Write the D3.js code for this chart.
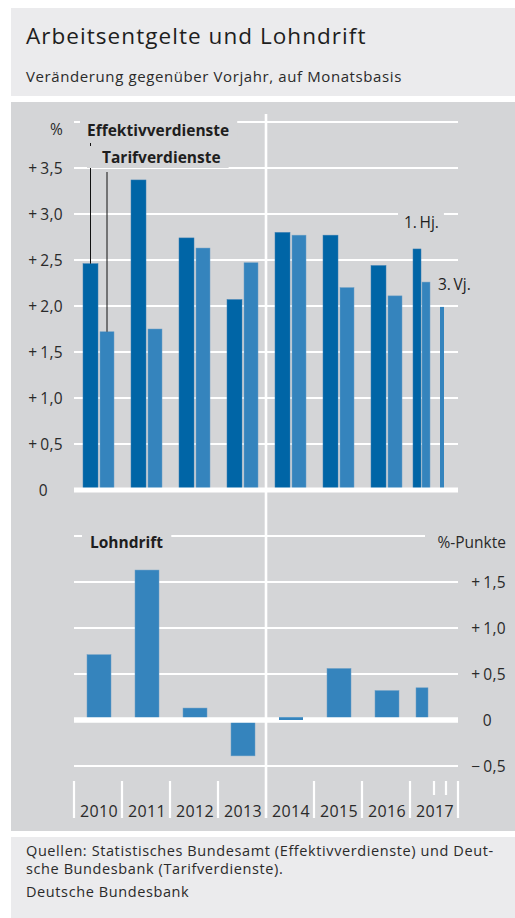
<!DOCTYPE html>
<html>
<head>
<meta charset="utf-8">
<script src="https://cdn.jsdelivr.net/npm/d3@7"></script>
<style>
  body { margin: 0; background: #fff; }
  text { font-family: "Open Sans", sans-serif; }
</style>
</head>
<body>
<svg id="chart" width="515" height="918"></svg>
<script>
  const width = 515, height = 918;
  const svg = d3.select("#chart");

  // data
  const years = [2010, 2011, 2012, 2013, 2014, 2015, 2016, 2017];
  const effektiv = [2.46, 3.37, 2.74, 2.07, 2.80, 2.77, 2.44, 2.62];
  const tarif = [1.72, 1.75, 2.63, 2.47, 2.77, 2.20, 2.11, 2.26];
  const tarif3Vj = 1.99;
  const lohndrift = [0.71, 1.63, 0.13, -0.39, 0.03, 0.56, 0.32, 0.35];
  const topTicks = [0, 0.5, 1.0, 1.5, 2.0, 2.5, 3.0, 3.5, 4.0];
  const bottomTicks = [-0.5, 0, 0.5, 1.0, 1.5, 2.0];

  const darkBlue = "#0065a6", lightBlue = "#3584bd";
  const panel = "#d4d5d7", boxBg = "#ebebed";

  // background boxes
  svg.append("rect").attr("x", 11).attr("y", 8).attr("width", width - 11).attr("height", 88).attr("fill", boxBg);
  svg.append("rect").attr("x", 11).attr("y", 102).attr("width", width - 11).attr("height", 729).attr("fill", panel);
  svg.append("rect").attr("x", 11).attr("y", 837).attr("width", width - 11).attr("height", 81).attr("fill", boxBg);

  svg.append("text").attr("x", 26).attr("y", 44)
    .attr("font-size", 22.5).attr("letter-spacing", 1.05).attr("fill", "#1e1e1e")
    .text("Arbeitsentgelte und Lohndrift");
  svg.append("text").attr("x", 26).attr("y", 82)
    .attr("font-size", 15).attr("letter-spacing", 0.6).attr("fill", "#2a2a2a")
    .text("Veränderung gegenüber Vorjahr, auf Monatsbasis");

  // scales
  const x = d3.scaleLinear().domain([2010, 2018]).range([74, 458]);
  const yTop = d3.scaleLinear().domain([0, 4]).range([490, 122]);
  const yBot = d3.scaleLinear().domain([-0.5, 2]).range([766, 536]);

  const fmt = v => v === 0 ? "0" : (v > 0 ? "+\u2009" : "\u2212\u2009") + d3.format(".1f")(Math.abs(v)).replace(".", ",");

  // ---------- top chart ----------
  const topG = svg.append("g");
  topG.selectAll("line.grid")
    .data(topTicks.filter(d => d !== 0))
    .join("line")
    .attr("x1", x(2010)).attr("x2", x(2018))
    .attr("y1", d => yTop(d)).attr("y2", d => yTop(d))
    .attr("stroke", "#fff").attr("stroke-width", 2.2);

  topG.selectAll("text.tick")
    .data(topTicks)
    .join("text")
    .attr("x", d => d === 0 ? 48 : 63)
    .attr("y", d => d === 4 ? 135 : yTop(d) + 6)
    .attr("text-anchor", "end")
    .attr("font-size", 15.5).attr("letter-spacing", 0.3).attr("fill", "#2a2a2a")
    .text(d => d === 4 ? "%" : fmt(d));

  topG.selectAll("rect.eff")
    .data(effektiv.map((v, i) => ({ year: years[i], v })))
    .join("rect")
    .attr("x", d => d.year === 2017 ? x(2017.25) - 9 : x(d.year + 0.5) - 15)
    .attr("width", d => d.year === 2017 ? 8 : 15)
    .attr("y", d => yTop(d.v))
    .attr("height", d => yTop(0) - yTop(d.v))
    .attr("fill", darkBlue).attr("stroke", "#3b7fb3").attr("stroke-width", 0.5);

  topG.selectAll("rect.tar")
    .data(tarif.map((v, i) => ({ year: years[i], v })))
    .join("rect")
    .attr("x", d => d.year === 2017 ? x(2017.25) : x(d.year + 0.5) + 2)
    .attr("width", d => d.year === 2017 ? 8 : 14)
    .attr("y", d => yTop(d.v))
    .attr("height", d => yTop(0) - yTop(d.v))
    .attr("fill", lightBlue).attr("stroke", "#6c9fc6").attr("stroke-width", 0.5);

  topG.append("rect")
    .attr("x", x(2017.625)).attr("width", 4)
    .attr("y", yTop(tarif3Vj)).attr("height", yTop(0) - yTop(tarif3Vj))
    .attr("fill", lightBlue);

  topG.append("line")
    .attr("x1", x(2010)).attr("x2", x(2018))
    .attr("y1", yTop(0)).attr("y2", yTop(0))
    .attr("stroke", "#fff").attr("stroke-width", 5);

  // labels with panel-coloured background that cut the gridlines
  function label(g, txt, lx, ly, opts) {
    const t = g.append("text").attr("x", lx).attr("y", ly)
      .attr("font-size", opts.size).attr("font-weight", opts.bold ? "bold" : "normal")
      .attr("fill", "#1e1e1e").text(txt);
    if (opts.anchor) t.attr("text-anchor", opts.anchor);
    if (opts.bg) {
      const b = t.node().getBBox();
      g.insert("rect", () => t.node())
        .attr("x", b.x - opts.bg[0]).attr("y", b.y)
        .attr("width", b.width + opts.bg[0] + opts.bg[1]).attr("height", b.height)
        .attr("fill", panel);
    }
    return t;
  }

  // leader lines
  topG.append("line").attr("x1", x(2010.5) - 7.5).attr("x2", x(2010.5) - 7.5)
    .attr("y1", 143).attr("y2", yTop(effektiv[0]))
    .attr("stroke", "#111").attr("stroke-width", 1);
  topG.append("line").attr("x1", x(2010.5) + 9).attr("x2", x(2010.5) + 9)
    .attr("y1", 172).attr("y2", yTop(tarif[0]))
    .attr("stroke", "#111").attr("stroke-width", 1);

  label(topG, "Effektivverdienste", 87, 136, { size: 15.5, bold: true, bg: [7, 8] });
  label(topG, "Tarifverdienste", 102, 163, { size: 15.5, bold: true, bg: [15, 8] });
  label(topG, "1.\u2009Hj.", 404, 228, { size: 15.5, bg: [6, 5] });
  label(topG, "3.\u2009Vj.", 438, 290, { size: 15.5 });

  // ---------- bottom chart ----------
  const botG = svg.append("g");
  botG.selectAll("line.grid")
    .data(bottomTicks.filter(d => d !== 0))
    .join("line")
    .attr("x1", x(2010)).attr("x2", d => d === 2 ? 425 : x(2018))
    .attr("y1", d => yBot(d)).attr("y2", d => yBot(d))
    .attr("stroke", "#fff").attr("stroke-width", 2.2);

  botG.selectAll("text.tick")
    .data(bottomTicks.filter(d => d !== 2))
    .join("text")
    .attr("x", d => d === 0 ? 492 : 506)
    .attr("y", d => yBot(d) + 6)
    .attr("text-anchor", "end")
    .attr("font-size", 15.5).attr("letter-spacing", 0.3).attr("fill", "#2a2a2a")
    .text(fmt);

  botG.append("text").attr("x", 506).attr("y", 548)
    .attr("text-anchor", "end").attr("font-size", 15.5).attr("fill", "#2a2a2a")
    .text("%-Punkte");

  const driftData = lohndrift.map((v, i) => ({ year: years[i], v }));
  const driftX = d => d.year === 2017 ? x(2017.25) - 6 : x(d.year + 0.5) - 11;
  const driftW = d => d.year === 2017 ? 12 : 24;
  const driftY = d => Math.min(yBot(d.v), yBot(0));
  const driftH = d => Math.abs(yBot(d.v) - yBot(0));

  botG.selectAll("rect.drift")
    .data(driftData)
    .join("rect")
    .attr("x", driftX).attr("width", driftW)
    .attr("y", driftY).attr("height", driftH)
    .attr("fill", lightBlue).attr("stroke", "#6c9fc6").attr("stroke-width", 0.5);

  botG.append("line")
    .attr("x1", x(2010)).attr("x2", x(2018))
    .attr("y1", yBot(0)).attr("y2", yBot(0))
    .attr("stroke", "#fff").attr("stroke-width", 5.5);

  // tiny values stay visible on top of the zero line
  botG.selectAll("rect.tiny")
    .data(driftData.filter(d => driftH(d) < 4))
    .join("rect")
    .attr("x", driftX).attr("width", driftW)
    .attr("y", driftY).attr("height", driftH)
    .attr("fill", lightBlue);

  label(botG, "Lohndrift", 90, 548, { size: 15.5, bold: true, bg: [8, 8] });

  // year axis
  const seps = d3.range(2010, 2019);
  botG.selectAll("line.sep")
    .data(seps)
    .join("line")
    .attr("x1", d => x(d)).attr("x2", d => x(d))
    .attr("y1", d => d === 2014 ? 114 : 781).attr("y2", 818)
    .attr("stroke", "#fff").attr("stroke-width", d => d === 2014 ? 2.6 : 2.2);

  botG.selectAll("line.q")
    .data([2017.5, 2017.75])
    .join("line")
    .attr("x1", d => x(d)).attr("x2", d => x(d))
    .attr("y1", 781).attr("y2", 795)
    .attr("stroke", "#fff").attr("stroke-width", 2.2);

  botG.selectAll("text.year")
    .data(years)
    .join("text")
    .attr("x", d => x(d + 0.5) + 1)
    .attr("y", 817)
    .attr("text-anchor", "middle")
    .attr("font-size", 16).attr("letter-spacing", 0.3).attr("fill", "#2a2a2a")
    .text(d => d);

  // footer
  const foot = svg.append("g").attr("font-size", 14.5).attr("letter-spacing", 0.6).attr("fill", "#2a2a2a");
  foot.append("text").attr("x", 26).attr("y", 856).text("Quellen: Statistisches Bundesamt (Effektivverdienste) und Deut-");
  foot.append("text").attr("x", 26).attr("y", 874).text("sche Bundesbank (Tarifverdienste).");
  foot.append("text").attr("x", 26).attr("y", 897).text("Deutsche Bundesbank");
</script>
</body>
</html>
